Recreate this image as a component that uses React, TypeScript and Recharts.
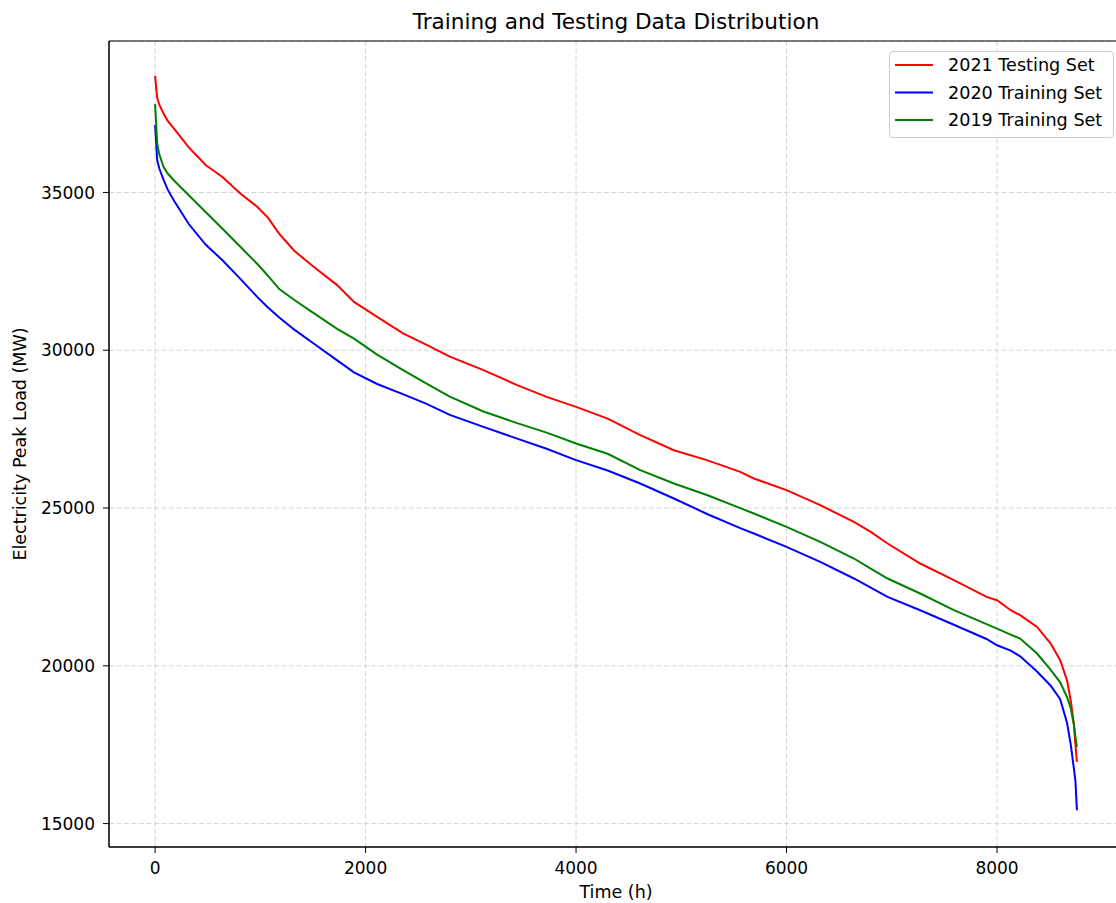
import React from 'react';
import { LineChart, Line, XAxis, YAxis, CartesianGrid, Legend, ReferenceArea } from 'recharts';

// Hours (x positions of sampled points along the sorted load curves)
const hours = [0, 20, 40, 80, 120, 180, 320, 480, 640, 810, 970, 1070, 1180, 1320, 1500, 1730, 1890, 2110, 2360, 2580, 2800, 3120, 3440, 3720, 4000, 4300, 4610, 4930, 5250, 5560, 5690, 6000, 6320, 6640, 6800, 6960, 7270, 7590, 7900, 8000, 8130, 8220, 8380, 8510, 8600, 8665, 8700, 8730, 8745, 8759];

const testing2021 = [38690, 38000, 37780, 37500, 37270, 37020, 36430, 35870, 35490, 34970, 34546, 34210, 33690, 33160, 32660, 32064, 31530, 31060, 30530, 30170, 29800, 29370, 28894, 28523, 28206, 27835, 27310, 26830, 26510, 26146, 25937, 25566, 25090, 24561, 24244, 23876, 23242, 22713, 22184, 22078, 21762, 21603, 21232, 20706, 20177, 19543, 18909, 18170, 17500, 16953];

const training2020 = [37136, 36026, 35760, 35410, 35090, 34740, 34000, 33350, 32850, 32260, 31690, 31360, 31040, 30660, 30230, 29680, 29300, 28930, 28600, 28300, 27950, 27570, 27200, 26880, 26517, 26190, 25778, 25303, 24803, 24363, 24193, 23768, 23293, 22767, 22480, 22183, 21762, 21300, 20850, 20650, 20480, 20300, 19820, 19370, 18945, 18200, 17520, 16750, 16350, 15422];

const training2019 = [37800, 36556, 36200, 35814, 35600, 35380, 34910, 34380, 33850, 33278, 32740, 32370, 31940, 31600, 31190, 30680, 30370, 29860, 29360, 28940, 28530, 28060, 27690, 27390, 27046, 26720, 26200, 25778, 25406, 24997, 24827, 24402, 23927, 23400, 23080, 22767, 22291, 21762, 21320, 21180, 20990, 20864, 20389, 19870, 19477, 19013, 18660, 18140, 17750, 17428];

const xTicks = [0, 2000, 4000, 6000, 8000];
const yTicks = [15000, 20000, 25000, 30000, 35000];

const X_DOMAIN: [number, number] = [-438, 9197];
const Y_DOMAIN: [number, number] = [14258, 39800];

const series = [
  { key: 'testing2021', name: '2021 Testing Set', color: '#ff0000' },
  { key: 'training2020', name: '2020 Training Set', color: '#0000ff' },
  { key: 'training2019', name: '2019 Training Set', color: '#008000' },
];

const data = hours.map((h, i) => ({
  hour: h,
  testing2021: testing2021[i],
  training2020: training2020[i],
  training2019: training2019[i],
}));

const FONT = '"DejaVu Sans", Verdana, sans-serif';

const renderLegend = () => (
  <div
    style={{
      boxSizing: 'border-box',
      width: 225,
      height: 87,
      border: '1px solid #cccccc',
      borderRadius: 4,
      background: 'rgba(255,255,255,0.8)',
    }}
  >
    <svg width={223} height={85} style={{ display: 'block' }}>
      {series.map((s, i) => {
        const cy = 13 + i * 27.5;
        return (
          <g key={s.key}>
            <line x1={5} x2={43} y1={cy} y2={cy} stroke={s.color} strokeWidth={2} />
            <text x={58} y={cy + 6.3} fontFamily={FONT} fontSize={17.6} fill="#000">
              {s.name}
            </text>
          </g>
        );
      })}
    </svg>
  </div>
);

export default function App() {
  return (
    <div
      style={{
        position: 'fixed',
        left: 0,
        top: 0,
        width: 1116,
        height: 903,
        overflow: 'hidden',
        background: '#fff',
        fontFamily: FONT,
      }}
    >
      <LineChart
        width={1130}
        height={903}
        data={data}
        margin={{ top: 41, right: 7, left: 0, bottom: 0 }}
      >
        <CartesianGrid stroke="#d4d4d4" strokeDasharray="5 2.5" strokeWidth={1} />
        <XAxis
          dataKey="hour"
          type="number"
          domain={X_DOMAIN}
          ticks={xTicks}
          allowDataOverflow
          height={56}
          stroke="#000"
          tickLine={{ stroke: '#000' }}
          tickSize={6}
          tickMargin={9}
          tick={{ fill: '#000', fontSize: 17, fontFamily: FONT }}
          label={(props: any) => {
            const vb = props.viewBox || {};
            const cx = (vb.x ?? 109) + (vb.width ?? 1014) / 2;
            return (
              <g>
                <text x={cx} y={898} textAnchor="middle" fontFamily={FONT} fontSize={17.5} fill="#000">
                  Time (h)
                </text>
                <text x={cx} y={29} textAnchor="middle" fontFamily={FONT} fontSize={21.6} fill="#000">
                  Training and Testing Data Distribution
                </text>
              </g>
            );
          }}
        />
        <YAxis
          type="number"
          domain={Y_DOMAIN}
          ticks={yTicks}
          allowDataOverflow
          width={109}
          stroke="#000"
          tickLine={{ stroke: '#000' }}
          tickSize={6}
          tickMargin={8}
          tick={{ fill: '#000', fontSize: 17, fontFamily: FONT }}
          label={() => (
            <text
              x={26}
              y={444}
              transform="rotate(-90 26 444)"
              textAnchor="middle"
              fontFamily={FONT}
              fontSize={17.5}
              fill="#000"
            >
              Electricity Peak Load (MW)
            </text>
          )}
        />
        <ReferenceArea
          x1={X_DOMAIN[0]}
          x2={X_DOMAIN[1]}
          y1={Y_DOMAIN[0]}
          y2={Y_DOMAIN[1]}
          fill="none"
          fillOpacity={0}
          stroke="#000"
          strokeWidth={1}
          ifOverflow="visible"
        />
        {series.map((s) => (
          <Line
            key={s.key}
            type="linear"
            dataKey={s.key}
            name={s.name}
            stroke={s.color}
            strokeWidth={2}
            dot={false}
            activeDot={false}
            isAnimationActive={false}
          />
        ))}
        <Legend
          layout="horizontal"
          verticalAlign="middle"
          align="center"
          wrapperStyle={{ position: 'absolute', left: 889, top: 51, width: 225, height: 87 }}
          content={renderLegend}
        />
      </LineChart>
    </div>
  );
}
